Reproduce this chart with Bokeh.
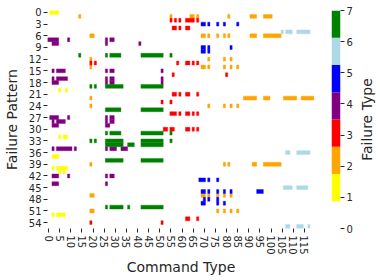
from bokeh.plotting import figure
from bokeh.models import Range1d, FixedTicker, LinearColorMapper, ColumnDataSource
from bokeh.transform import transform
from bokeh.layouts import row
from bokeh.embed import file_html
from bokeh.resources import INLINE

n_rows = 56
n_cols = 120
x_tick_values = list(range(0, 120, 5))
y_tick_values = list(range(0, 56, 3))
type_ticks = [0, 1, 2, 3, 4, 5, 6, 7]
type_colors = ["#ffffff", "#ffff00", "#ffa500", "#ff0000", "#800080", "#0000ff", "#add8e6", "#008000"]

# (row, first column, last column) runs for each failure type
yellow_runs = [(0, 1, 4), (20, 5, 5), (20, 8, 8), (32, 5, 5), (32, 7, 8), (37, 2, 4), (40, 2, 2), (40, 4, 8),
               (41, 5, 5), (41, 7, 7), (52, 2, 2), (52, 4, 7)]
orange_runs = [(1, 14, 14), (1, 55, 55), (1, 64, 65), (1, 67, 67), (1, 81, 81), (1, 91, 93), (1, 97, 100),
               (6, 19, 20), (6, 69, 70), (6, 72, 72), (6, 76, 76), (6, 79, 79), (6, 81, 81), (6, 91, 93), (6, 97, 104),
               (12, 19, 19), (12, 72, 72), (12, 79, 79), (12, 82, 82),
               (14, 19, 19), (14, 69, 70), (14, 72, 72), (14, 79, 79), (14, 82, 82), (14, 85, 85),
               (22, 19, 19), (22, 88, 93), (22, 97, 99), (22, 106, 111), (22, 114, 119),
               (24, 19, 19), (24, 72, 72), (24, 79, 79), (24, 82, 82), (24, 85, 85),
               (39, 19, 19), (39, 79, 79), (39, 81, 81), (39, 92, 93), (39, 97, 104),
               (47, 19, 20), (47, 69, 70), (47, 72, 72), (47, 76, 76), (47, 79, 79), (47, 82, 82),
               (51, 19, 20), (51, 76, 76), (51, 79, 79), (51, 82, 82), (51, 85, 85)]
red_runs = [(2, 55, 55), (2, 57, 57), (2, 59, 59), (2, 62, 65), (2, 67, 67),
            (4, 56, 57), (4, 59, 59), (4, 62, 63),
            (13, 19, 19), (13, 21, 21), (13, 58, 58), (13, 62, 63), (13, 65, 65), (13, 67, 67),
            (16, 56, 56), (16, 80, 80),
            (21, 56, 57), (21, 59, 59), (21, 62, 63), (21, 67, 67),
            (23, 51, 51), (23, 55, 55),
            (26, 55, 57), (26, 59, 59), (26, 62, 63), (26, 65, 65), (26, 67, 67),
            (30, 52, 53), (30, 55, 56), (30, 62, 63), (30, 65, 65), (30, 67, 67),
            (53, 62, 63), (53, 67, 67),
            (54, 19, 19), (54, 51, 51)]
purple_runs = [(7, 0, 4), (7, 9, 9), (7, 26, 26), (7, 28, 29),
               (8, 2, 4), (8, 26, 26), (8, 41, 41),
               (15, 2, 2), (15, 4, 7), (15, 26, 26), (15, 28, 29), (15, 51, 51),
               (17, 2, 2), (17, 4, 8), (17, 26, 26), (17, 28, 29), (17, 51, 51),
               (18, 2, 4), (18, 26, 26), (18, 28, 29), (18, 51, 51),
               (27, 1, 4), (27, 9, 9), (27, 26, 26), (27, 28, 29),
               (28, 2, 2), (28, 4, 7), (28, 26, 26), (28, 28, 29),
               (29, 2, 4), (29, 26, 27),
               (35, 2, 2), (35, 4, 10), (35, 12, 12), (35, 26, 26), (35, 28, 30), (35, 33, 35),
               (42, 2, 4), (42, 9, 9), (42, 26, 26), (42, 28, 29),
               (44, 2, 4), (44, 26, 26)]
blue_runs = [(3, 69, 70), (3, 72, 72), (3, 76, 76), (3, 79, 79), (3, 85, 85),
             (9, 69, 70), (9, 72, 72), (9, 82, 82),
             (10, 69, 70), (10, 72, 72),
             (43, 68, 70), (43, 72, 72), (43, 76, 76),
             (46, 69, 70), (46, 72, 72), (46, 76, 76), (46, 79, 79), (46, 82, 82), (46, 94, 96),
             (48, 70, 70), (48, 72, 72), (48, 76, 76),
             (49, 69, 70), (49, 76, 76), (49, 79, 79)]
lightblue_runs = [(5, 105, 105), (5, 107, 109), (5, 112, 117),
                  (36, 107, 108), (36, 112, 117),
                  (45, 106, 109), (45, 112, 116),
                  (55, 107, 108), (55, 112, 114), (55, 117, 117)]
green_runs = [(11, 14, 14), (11, 26, 26), (11, 28, 32), (11, 42, 51), (11, 55, 55),
              (19, 19, 19), (19, 21, 21), (19, 26, 33), (19, 42, 51),
              (25, 26, 32), (25, 42, 51),
              (31, 26, 26), (31, 28, 32), (31, 42, 51), (31, 55, 55),
              (33, 19, 19), (33, 21, 21), (33, 26, 33), (33, 42, 51), (33, 55, 55),
              (34, 26, 33), (34, 36, 38), (34, 42, 51),
              (38, 26, 33), (38, 42, 51),
              (50, 26, 26), (50, 28, 33), (50, 36, 36), (50, 42, 51)]

runs_by_type = {1: yellow_runs, 2: orange_runs, 3: red_runs, 4: purple_runs,
                5: blue_runs, 6: lightblue_runs, 7: green_runs}

left, right, top, bottom, ftype = [], [], [], [], []
for t, runs in runs_by_type.items():
    for r, c0, c1 in runs:
        left.append(c0 - 0.5)
        right.append(c1 + 0.5)
        top.append(r - 0.5)
        bottom.append(r + 0.5)
        ftype.append(t)
src = ColumnDataSource(dict(left=left, right=right, top=top, bottom=bottom, ftype=ftype))

mapper = LinearColorMapper(palette=type_colors, low=type_ticks[0], high=type_ticks[-1])

TXT = "#262626"
FONT = "DejaVu Sans"
H = 280
BT, BB = 10, 52


def style_axis(ax, tick_out=4):
    ax.axis_line_color = None
    ax.major_tick_in = 0
    ax.major_tick_out = tick_out
    ax.major_tick_line_color = TXT
    ax.minor_tick_line_color = None
    ax.major_label_text_font = FONT
    ax.major_label_text_font_size = "10px"
    ax.major_label_text_color = TXT
    ax.axis_label_text_font = FONT
    ax.axis_label_text_font_size = "14px"
    ax.axis_label_text_font_style = "normal"
    ax.axis_label_text_color = TXT


p = figure(width=314, height=H, x_range=Range1d(-0.5, n_cols - 0.5), y_range=Range1d(n_rows - 0.5, -0.5),
           output_backend="svg", toolbar_location=None,
           min_border_left=46, min_border_right=0, min_border_top=BT, min_border_bottom=BB)
p.quad(source=src, left="left", right="right", top="top", bottom="bottom",
       fill_color=transform("ftype", mapper), line_color=transform("ftype", mapper), line_width=0.4)
p.outline_line_color = None
p.grid.visible = False

p.xaxis.ticker = FixedTicker(ticks=x_tick_values)
p.yaxis.ticker = FixedTicker(ticks=y_tick_values)
p.xaxis.major_label_orientation = "vertical"
p.xaxis.axis_label = "Command Type"
p.yaxis.axis_label = "Failure Pattern"
style_axis(p.xaxis[0])
style_axis(p.yaxis[0])
p.xaxis.major_label_standoff = 3
p.xaxis.axis_label_standoff = 1
p.yaxis.major_label_standoff = 2
p.yaxis.axis_label_standoff = 6

# colour bar drawn as its own small figure
band = (type_ticks[-1] - type_ticks[0]) / len(type_colors)
cb_bottom = [type_ticks[0] + i * band for i in range(len(type_colors))]
cb_top = [type_ticks[0] + (i + 1) * band for i in range(len(type_colors))]
cb = figure(width=41, height=H, x_range=Range1d(0, 1), y_range=Range1d(type_ticks[0], type_ticks[-1]),
            output_backend="svg", toolbar_location=None, x_axis_location=None, y_axis_location="right",
            min_border_left=17, min_border_right=14, min_border_top=BT, min_border_bottom=BB)
cb.quad(left=0, right=1, bottom=cb_bottom, top=cb_top, fill_color=type_colors, line_color=None)
cb.outline_line_color = None
cb.grid.visible = False
cax = cb.yaxis[0]
cax.ticker = FixedTicker(ticks=type_ticks)
style_axis(cax)
cax.major_label_standoff = 2

# colour-bar title as a left axis label of a slim companion figure
lf = figure(width=22, height=H, x_range=Range1d(0, 1), y_range=Range1d(0, 1),
            output_backend="svg", toolbar_location=None, x_axis_location=None, y_axis_location="left",
            min_border_left=20, min_border_right=0, min_border_top=BT, min_border_bottom=BB)
lf.outline_line_color = None
lf.grid.visible = False
lax = lf.yaxis[0]
lax.ticker = FixedTicker(ticks=[])
style_axis(lax, tick_out=0)
lax.axis_label = "Failure Type"
lax.axis_label_standoff = 1

layout = row(p, cb, lf)
open("out.html", "w").write(file_html(layout, INLINE))
